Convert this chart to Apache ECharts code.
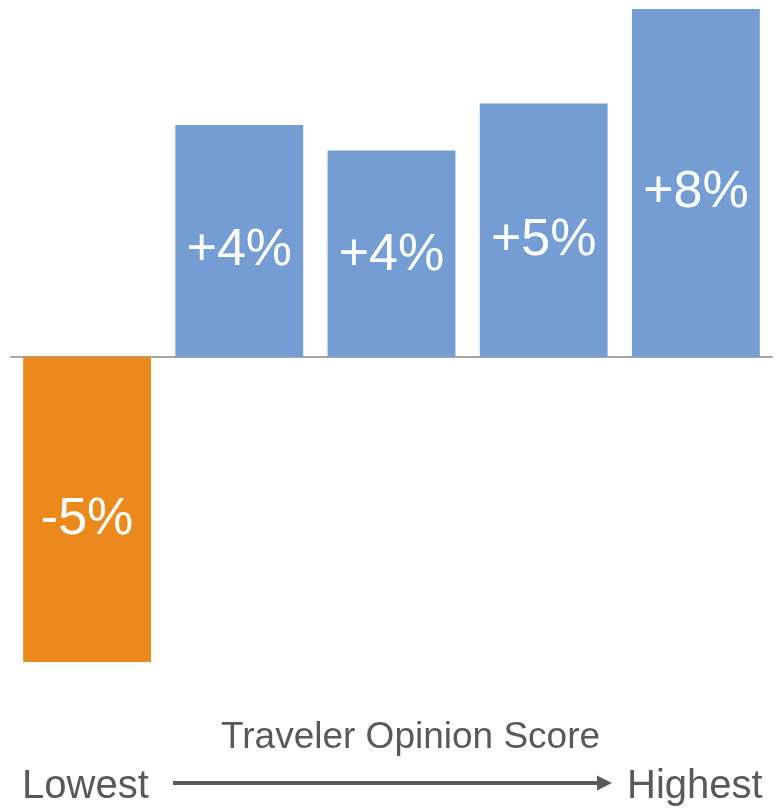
<!DOCTYPE html>
<html>
<head>
<meta charset="utf-8">
<script src="https://cdn.jsdelivr.net/npm/echarts@6/dist/echarts.min.js"></script>
<style>html,body{margin:0;padding:0;background:#fff}#c{width:776px;height:810px}</style>
</head>
<body>
<div id="c"></div>
<script>
var categories = ['1', '2', '3', '4', '5'];
var values = [-5, 3.8, 3.38, 4.15, 5.7];
var labels = ['-5%', '+4%', '+4%', '+5%', '+8%'];
var axisTitle = 'Traveler Opinion Score';
var lowText = 'Lowest';
var highText = 'Highest';

var chart = echarts.init(document.getElementById('c'));
var font = '"Liberation Sans", Arial, Helvetica, sans-serif';
chart.setOption({
  animation: false,
  grid: {left: 11, right: 4, top: 9, bottom: 148, containLabel: false},
  xAxis: {
    type: 'category', data: categories,
    axisLine: {onZero: true, lineStyle: {color: '#a6a6a6', width: 2}},
    axisTick: {show: false}, axisLabel: {show: false}
  },
  yAxis: {type: 'value', min: -5, max: 5.7, show: false, splitLine: {show: false}},
  series: [{
    type: 'bar', barCategoryGap: '16%',
    data: values.map(function (v, i) {
      var item = {value: v, itemStyle: {color: v < 0 ? '#ec891d' : '#749ed3'}};
      if (i === 2) item.label = {offset: [0, 2]};
      return item;
    }),
    label: {
      show: true, position: 'inside', offset: [0, 10],
      color: '#fff', fontSize: 52, fontFamily: font,
      formatter: function (p) { return labels[p.dataIndex]; }
    },
    z: 1
  }],
  graphic: [
    {type: 'text', left: 221, top: 719, style: {text: axisTitle, font: '37px ' + font, fill: '#595959'}},
    {type: 'text', left: 22, top: 767, style: {text: lowText, font: '40px ' + font, fill: '#595959'}},
    {type: 'text', left: 627, top: 767, style: {text: highText, font: '40px ' + font, fill: '#595959'}},
    {type: 'line', shape: {x1: 173, y1: 783, x2: 600, y2: 783}, style: {stroke: '#595959', lineWidth: 4}},
    {type: 'polygon', shape: {points: [[597, 775.5], [612, 783], [597, 790.5]]}, style: {fill: '#595959'}}
  ]
});
</script>
</body>
</html>
